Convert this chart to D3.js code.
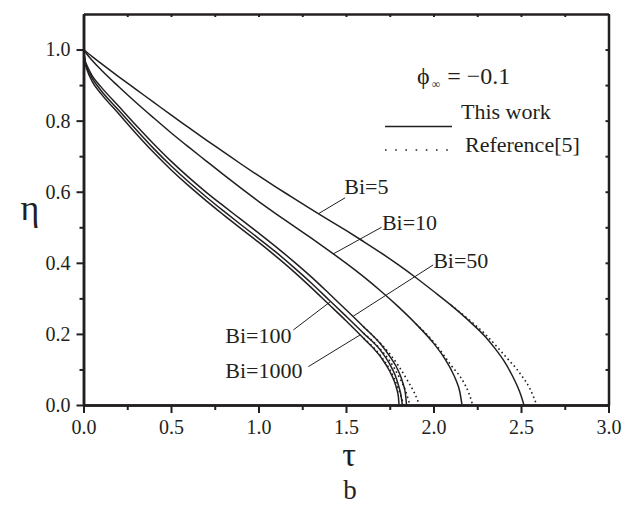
<!DOCTYPE html>
<html>
<head>
<meta charset="utf-8">
<script src="https://cdn.jsdelivr.net/npm/d3@7"></script>
<style>
  body { margin: 0; background: #fff; }
  .serif { font-family: 'Liberation Serif'; }
  .curve { fill: none; stroke: #231f20; stroke-width: 1.5; }
  .ref { fill: none; stroke: #231f20; stroke-width: 1.6; stroke-dasharray: 1.6,3; }
  .lead { stroke: #231f20; stroke-width: 1; }
  .axis path, .axis line { stroke: #231f20; stroke-width: 2.5; }
</style>
</head>
<body>
<svg width="633" height="505"></svg>
<script>
// tau, eta pairs ("This work", solid)
var bi5 = [[0,1.0],[0.05,0.98],[0.1,0.961],[0.2,0.924],[0.3,0.888],[0.4,0.852],[0.5,0.816],[0.6,0.781],[0.7,0.746],[0.8,0.712],[0.9,0.678],[1.0,0.645],[1.1,0.613],[1.2,0.582],[1.3,0.551],[1.4,0.521],[1.5,0.491],[1.6,0.46],[1.7,0.428],[1.8,0.394],[1.9,0.358],[2.0,0.32],[2.1,0.281],[2.2,0.238],[2.3,0.19],[2.35,0.16],[2.4,0.126],[2.45,0.083],[2.48,0.052],[2.5,0.027],[2.517,0]];
var bi10 = [[0,1.0],[0.02,0.987],[0.05,0.969],[0.1,0.943],[0.2,0.896],[0.3,0.851],[0.4,0.808],[0.5,0.766],[0.6,0.726],[0.7,0.687],[0.8,0.648],[0.9,0.61],[1.0,0.573],[1.1,0.538],[1.2,0.504],[1.3,0.47],[1.4,0.435],[1.5,0.399],[1.6,0.361],[1.7,0.32],[1.8,0.276],[1.9,0.228],[2.0,0.174],[2.05,0.141],[2.1,0.1],[2.13,0.068],[2.15,0.038],[2.163,0]];
var bi50 = [[0,1.0],[0.01,0.968],[0.02,0.955],[0.05,0.926],[0.1,0.895],[0.2,0.841],[0.3,0.787],[0.4,0.735],[0.5,0.686],[0.6,0.641],[0.7,0.599],[0.8,0.56],[0.9,0.522],[1.0,0.484],[1.1,0.445],[1.2,0.404],[1.3,0.361],[1.4,0.315],[1.5,0.268],[1.6,0.22],[1.7,0.17],[1.75,0.137],[1.8,0.095],[1.825,0.062],[1.84,0.03],[1.846,0]];
var bi100 = [[0,1.0],[0.01,0.964],[0.02,0.949],[0.05,0.919],[0.1,0.885],[0.2,0.83],[0.3,0.775],[0.4,0.722],[0.5,0.673],[0.6,0.628],[0.7,0.586],[0.8,0.546],[0.9,0.507],[1.0,0.469],[1.1,0.43],[1.2,0.388],[1.3,0.344],[1.4,0.297],[1.5,0.25],[1.6,0.202],[1.7,0.152],[1.75,0.115],[1.78,0.085],[1.8,0.055],[1.815,0.025],[1.822,0]];
var bi1000 = [[0,1.0],[0.01,0.96],[0.02,0.943],[0.05,0.91],[0.1,0.876],[0.2,0.82],[0.3,0.764],[0.4,0.711],[0.5,0.662],[0.6,0.617],[0.7,0.575],[0.8,0.535],[0.9,0.496],[1.0,0.458],[1.1,0.418],[1.2,0.376],[1.3,0.331],[1.4,0.284],[1.5,0.237],[1.6,0.188],[1.7,0.134],[1.75,0.095],[1.775,0.068],[1.79,0.045],[1.8,0.02],[1.803,0]];

// Reference[5] tails (dotted), they sit on the solid curves higher up
var ref5 = [[2.1,0.281],[2.2,0.241],[2.3,0.197],[2.4,0.143],[2.5,0.085],[2.55,0.047],[2.59,0]];
var ref10 = [[1.9,0.228],[2.0,0.178],[2.1,0.112],[2.17,0.066],[2.2,0.036],[2.224,0]];
var ref50 = [[1.6,0.22],[1.7,0.172],[1.75,0.144],[1.8,0.11],[1.85,0.07],[1.89,0.035],[1.92,0]];
var ref100 = [[1.6,0.202],[1.7,0.155],[1.75,0.124],[1.8,0.082],[1.84,0.04],[1.865,0]];
var ref1000 = [[1.6,0.188],[1.7,0.137],[1.75,0.1],[1.8,0.045],[1.83,0]];

var xMajor = [0, 0.5, 1.0, 1.5, 2.0, 2.5, 3.0];
var xMinor = [0.25, 0.75, 1.25, 1.75, 2.25, 2.75];
var yMajor = [0, 0.2, 0.4, 0.6, 0.8, 1.0];
var yMinor = [0.1, 0.3, 0.5, 0.7, 0.9];

// label text, where it starts, where its leader touches the curve
var labels = [
  { text: "Bi=5",    tx: 1.49,  ty: 0.595, lx0: 1.495, ly0: 0.583, lx1: 1.342, ly1: 0.538 },
  { text: "Bi=10",   tx: 1.705, ty: 0.493, lx0: 1.703, ly0: 0.50,  lx1: 1.427, ly1: 0.425 },
  { text: "Bi=50",   tx: 1.998, ty: 0.385, lx0: 1.998, ly0: 0.394, lx1: 1.542, ly1: 0.25 },
  { text: "Bi=100",  tx: 0.81,  ty: 0.175, lx0: 1.199, ly0: 0.211, lx1: 1.409, ly1: 0.29 },
  { text: "Bi=1000", tx: 0.81,  ty: 0.075, lx0: 1.285, ly0: 0.108, lx1: 1.58,  ly1: 0.197 }
];

var ink = "#231f20";

var svg = d3.select("svg");

var x = d3.scaleLinear().domain([0, 3]).range([83.5, 608.5]);
var y = d3.scaleLinear().domain([0, 1.1]).range([405, 14]);

var line = d3.line()
    .x(function(d) { return x(d[0]); })
    .y(function(d) { return y(d[1]); })
    .curve(d3.curveMonotoneX);

// minor ticks first
svg.append("g").attr("class", "axis")
   .attr("transform", "translate(0,405)")
   .call(d3.axisBottom(x).tickValues(xMinor).tickSize(5).tickSizeOuter(0).tickFormat(""));
svg.append("g").attr("class", "axis")
   .attr("transform", "translate(83.5,0)")
   .call(d3.axisLeft(y).tickValues(yMinor).tickSize(4).tickSizeOuter(0).tickFormat(""));

svg.append("g").attr("class", "axis")
   .attr("transform", "translate(0,405)")
   .call(d3.axisBottom(x).tickValues(xMajor).tickSize(8).tickPadding(7).tickSizeOuter(0).tickFormat(d3.format(".1f")));
svg.append("g").attr("class", "axis")
   .attr("transform", "translate(83.5,0)")
   .call(d3.axisLeft(y).tickValues(yMajor).tickSize(7).tickPadding(6).tickSizeOuter(0).tickFormat(d3.format(".1f")));

// top and right frame, small inward ticks
svg.append("g").attr("class", "axis")
   .attr("transform", "translate(0,14)")
   .call(d3.axisTop(x).tickValues(xMajor.concat(xMinor)).tickSize(-3).tickSizeOuter(0).tickFormat(""));
svg.append("g").attr("class", "axis")
   .attr("transform", "translate(608.5,0)")
   .call(d3.axisRight(y).tickValues(yMajor.concat(yMinor)).tickSize(-3).tickSizeOuter(0).tickFormat(""));

svg.selectAll(".axis line").style("stroke-width", 2);
svg.selectAll(".axis text").attr("font-size", 20);

var refs = [ref5, ref10, ref50, ref100, ref1000];
svg.selectAll(".ref").data(refs).enter().append("path")
   .attr("class", "ref")
   .attr("d", line);

var works = [bi5, bi10, bi50, bi100, bi1000];
svg.selectAll(".curve").data(works).enter().append("path")
   .attr("class", "curve")
   .attr("d", line);

// Bi labels with leader lines
svg.selectAll(".lead").data(labels).enter().append("line")
   .attr("class", "lead")
   .attr("x1", function(d) { return x(d.lx0); })
   .attr("y1", function(d) { return y(d.ly0); })
   .attr("x2", function(d) { return x(d.lx1); })
   .attr("y2", function(d) { return y(d.ly1); });

svg.selectAll(".bilabel").data(labels).enter().append("text")
   .attr("class", "bilabel")
   .attr("x", function(d) { return x(d.tx); })
   .attr("y", function(d) { return y(d.ty); })
   .attr("font-size", 22)
   .text(function(d) { return d.text; });

// legend
var leg = svg.append("g");
var phi = leg.append("text").attr("x", 417).attr("y", 84).attr("font-size", 24);
phi.append("tspan").text("ϕ");
phi.append("tspan").attr("font-size", 12).attr("dy", 4).attr("dx", 2).text("∞");
phi.append("tspan").attr("dy", -4).attr("dx", 7).text("= −0.1");

leg.append("line").attr("x1", 385).attr("x2", 452).attr("y1", 126.5).attr("y2", 126.5)
   .attr("stroke", ink).attr("stroke-width", 1.5);
leg.append("text").attr("x", 461).attr("y", 118.5).attr("font-size", 22).text("This work");

leg.append("line").attr("x1", 385).attr("x2", 448).attr("y1", 150).attr("y2", 150)
   .attr("stroke", ink).attr("stroke-width", 1.6).attr("stroke-dasharray", "1.6,8.6");
leg.append("text").attr("x", 465).attr("y", 152).attr("font-size", 22).text("Reference[5]");

// axis titles
svg.append("text").attr("x", 349).attr("y", 466).attr("text-anchor", "middle")
   .attr("font-size", 34).text("τ");
svg.append("text").attr("x", 350).attr("y", 499).attr("text-anchor", "middle")
   .attr("font-size", 27).text("b");
svg.append("text").attr("x", 30).attr("y", 220).attr("text-anchor", "middle")
   .attr("font-size", 36).text("η");

// every text in the serif face
svg.selectAll("text")
   .classed("serif", true)
   .style("font-family", "'Liberation Serif'")
   .attr("fill", ink);
</script>
</body>
</html>
